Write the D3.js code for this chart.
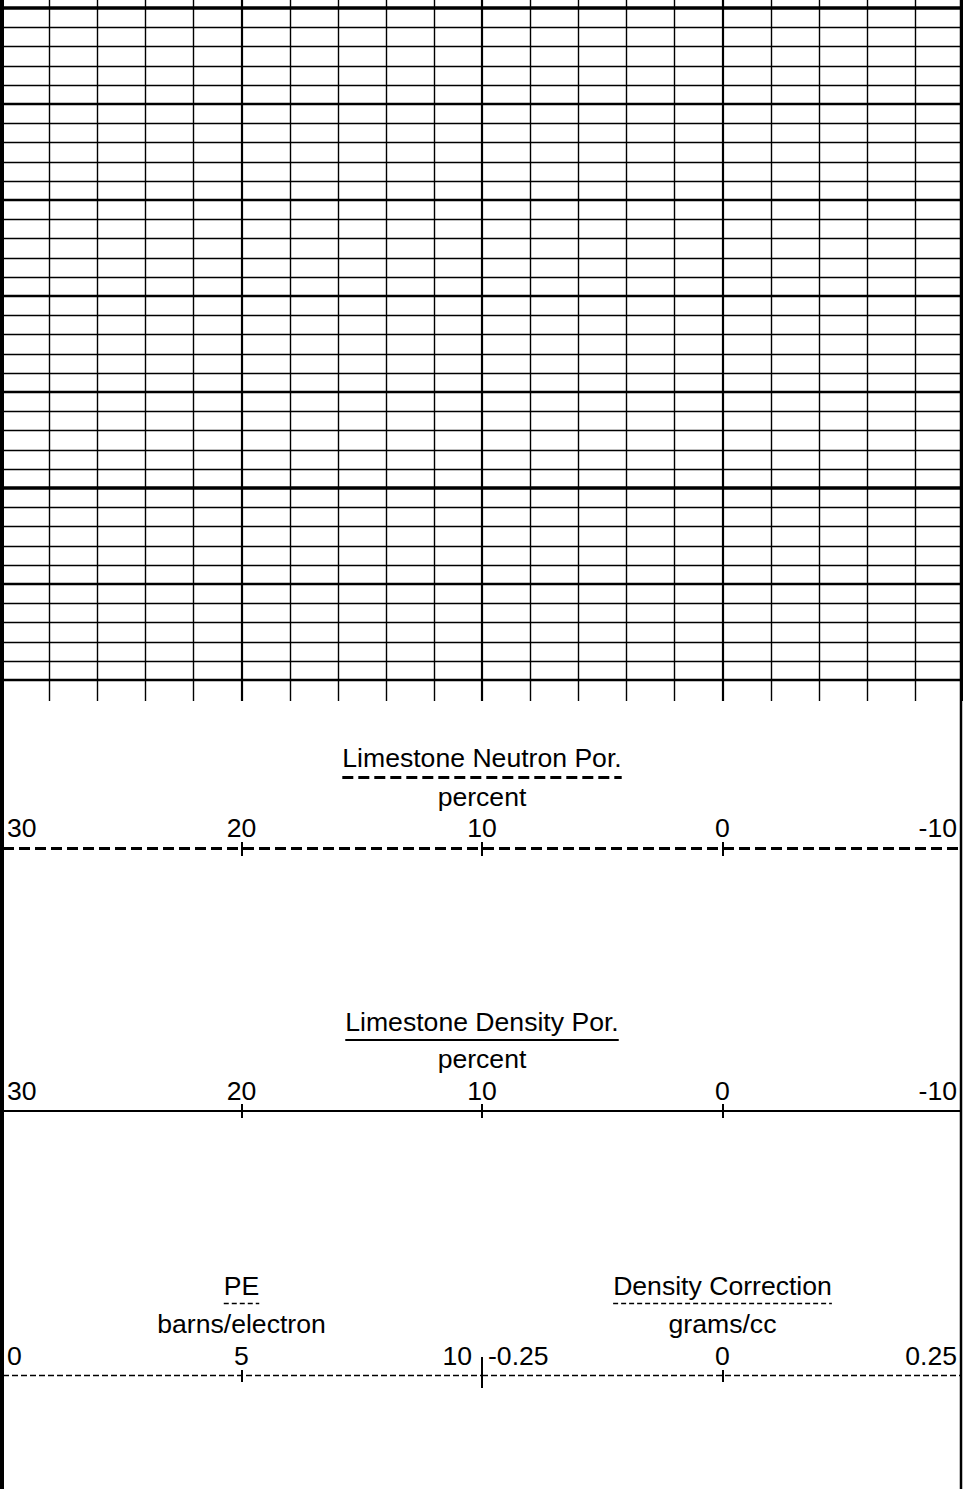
<!DOCTYPE html>
<html><head><meta charset="utf-8">
<script src="https://cdn.jsdelivr.net/npm/d3@7"></script>
<style>
html,body{margin:0;padding:0;background:#fff;}
svg{display:block;}
text{font-family:"Liberation Sans",Arial,Helvetica,sans-serif;font-size:26.6px;fill:#000;}
</style></head>
<body>
<script>
// ---- data ----
const porDomain = [30, -10];
const porTicks = [30, 20, 10, 0, -10];
const porMinorStep = 2;
const peDomain = [0, 10];
const peTicks = [0, 5, 10];
const dcDomain = [-0.25, 0.25];
const dcTicks = [-0.25, 0, 0.25];
const depthDomain = [0, 72];
const depthStep = 2;
const depthMajor = 10;
const depthHeavy = 50;
const neutronTitle = "Limestone Neutron Por.";
const neutronUnit = "percent";
const densityTitle = "Limestone Density Por.";
const densityUnit = "percent";
const peTitle = "PE";
const peUnit = "barns/electron";
const dcTitle = "Density Correction";
const dcUnit = "grams/cc";

const W = 963, H = 1489;
const svg = d3.select("body").append("svg").attr("width", W).attr("height", H);

const x = d3.scaleLinear().domain(porDomain).range([1, 963]);
const xPE = d3.scaleLinear().domain(peDomain).range([1, 482]);
const xDC = d3.scaleLinear().domain(dcDomain).range([482, 963]);
const y = d3.scaleLinear().domain(depthDomain).range([8, 699.2]);
const gridBottom = 701;
const hyphen = s => s.replace("\u2212", "-");

// ---- grid ----
const grid = svg.append("g");
const hVals = d3.range(depthDomain[0], depthDomain[1], depthStep);
grid.selectAll("line.h").data(hVals).join("line")
  .attr("x1", 0).attr("x2", W)
  .attr("y1", d => Math.round(y(d)) + ((d % depthMajor === 0) ? 0 : 0.5))
  .attr("y2", d => Math.round(y(d)) + ((d % depthMajor === 0) ? 0 : 0.5))
  .attr("stroke", "#000")
  .attr("stroke-width", d => d % depthHeavy === 0 ? 3.5 : (d % depthMajor === 0 ? 2.5 : 1.4));
const vVals = d3.range(porDomain[0], porDomain[1] - 0.001, -porMinorStep);
grid.selectAll("line.v").data(vVals).join("line")
  .attr("y1", 0).attr("y2", gridBottom)
  .attr("x1", d => Math.round(x(d)) + (d % 10 === 0 ? 0 : 0.5))
  .attr("x2", d => Math.round(x(d)) + (d % 10 === 0 ? 0 : 0.5))
  .attr("stroke", "#000")
  .attr("stroke-width", d => d % 10 === 0 ? 2.2 : 1.4);

// ---- borders ----
svg.append("line").attr("x1", 2).attr("x2", 2).attr("y1", 0).attr("y2", H)
  .attr("stroke", "#000").attr("stroke-width", 4);
svg.append("line").attr("x1", 961).attr("x2", 961).attr("y1", 0).attr("y2", H)
  .attr("stroke", "#000").attr("stroke-width", 2.5);

// ---- helper for header ----
function header(cx, title, unit, yTitle, yUnder, yUnit, underStyle) {
  const g = svg.append("g");
  const t = g.append("text").attr("x", cx).attr("y", yTitle).attr("text-anchor", "middle").text(title);
  const w = t.node().getComputedTextLength();
  g.append("line").attr("x1", cx - w / 2).attr("x2", cx + w / 2)
    .attr("y1", yUnder).attr("y2", yUnder)
    .attr("stroke", "#000").attr("stroke-width", underStyle.w)
    .attr("stroke-dasharray", underStyle.dash || null);
  g.append("text").attr("x", cx).attr("y", yUnit).attr("text-anchor", "middle").text(unit);
}

function tickLabels(scale, ticks, yLab, fmt, padL, padR) {
  const n = ticks.length;
  svg.append("g").selectAll("text").data(ticks).join("text")
    .attr("x", (d, i) => i === 0 ? scale(d) + padL : (i === n - 1 ? scale(d) - padR : scale(d)))
    .attr("y", yLab)
    .attr("text-anchor", (d, i) => i === 0 ? "start" : (i === n - 1 ? "end" : "middle"))
    .text(fmt);
}

// ---- Neutron porosity ----
header(482, neutronTitle, neutronUnit, 767, 777.5, 806, {w: 3, dash: "11,5"});
tickLabels(x, porTicks, 837, d => hyphen(d3.format("d")(d)), 6, 6);
svg.append("line").attr("x1", 3).attr("x2", 961).attr("y1", 848.5).attr("y2", 848.5)
  .attr("stroke", "#000").attr("stroke-width", 3).attr("stroke-dasharray", "11,5");
svg.append("g").selectAll("line").data(porTicks.slice(1, -1)).join("line")
  .attr("x1", d => Math.round(x(d))).attr("x2", d => Math.round(x(d)))
  .attr("y1", 842).attr("y2", 856).attr("stroke", "#000").attr("stroke-width", 2);

// ---- Density porosity ----
header(482, densityTitle, densityUnit, 1031, 1040, 1068, {w: 2});
tickLabels(x, porTicks, 1100, d => hyphen(d3.format("d")(d)), 6, 6);
svg.append("line").attr("x1", 3).attr("x2", 961).attr("y1", 1111).attr("y2", 1111)
  .attr("stroke", "#000").attr("stroke-width", 2);
svg.append("g").selectAll("line").data(porTicks.slice(1, -1)).join("line")
  .attr("x1", d => Math.round(x(d))).attr("x2", d => Math.round(x(d)))
  .attr("y1", 1104).attr("y2", 1118).attr("stroke", "#000").attr("stroke-width", 2);

// ---- PE ----
header(xPE(5), peTitle, peUnit, 1295, 1303.5, 1333, {w: 1.5, dash: "5,3"});
tickLabels(xPE, peTicks, 1365, d => d3.format("d")(d), 6, 10);
svg.append("line").attr("x1", 3).attr("x2", 482).attr("y1", 1375.5).attr("y2", 1375.5)
  .attr("stroke", "#000").attr("stroke-width", 1.6).attr("stroke-dasharray", "6,3");
svg.append("line").attr("x1", Math.round(xPE(5))).attr("x2", Math.round(xPE(5)))
  .attr("y1", 1370).attr("y2", 1382).attr("stroke", "#000").attr("stroke-width", 2);

// ---- Density correction ----
header(xDC(0), dcTitle, dcUnit, 1295, 1303.5, 1333, {w: 1.5, dash: "5,3"});
tickLabels(xDC, dcTicks, 1365, d => d === 0 ? "0" : hyphen(d3.format(".2f")(d)), 6, 6);
svg.append("line").attr("x1", 482).attr("x2", 961).attr("y1", 1375.5).attr("y2", 1375.5)
  .attr("stroke", "#000").attr("stroke-width", 1.6).attr("stroke-dasharray", "6,3");
svg.append("line").attr("x1", Math.round(xDC(0))).attr("x2", Math.round(xDC(0)))
  .attr("y1", 1370).attr("y2", 1382).attr("stroke", "#000").attr("stroke-width", 2);
// boundary tick between PE and density correction
svg.append("line").attr("x1", 482).attr("x2", 482)
  .attr("y1", 1357).attr("y2", 1388).attr("stroke", "#000").attr("stroke-width", 2);
</script>
</body></html>
